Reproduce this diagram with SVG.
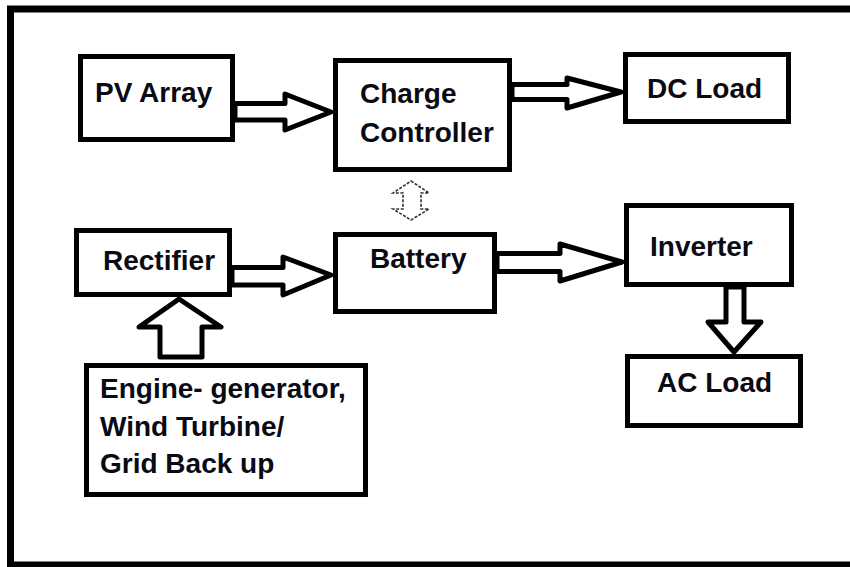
<svg xmlns="http://www.w3.org/2000/svg" width="850" height="567" viewBox="0 0 850 567">
<style>
.box{fill:#fff;stroke:#000;stroke-width:5}
.arr{fill:#fff;stroke:#000;stroke-width:5;stroke-linejoin:round}
.lbl{font-family:"Liberation Sans",Arial,sans-serif;font-weight:bold;font-size:28px;fill:#0a0a14}
.frame{fill:none;stroke:#000;stroke-width:7}
.dbl{fill:#fff;stroke:#333;stroke-width:1.6;stroke-dasharray:3 1.5}
</style>
<rect width="850" height="567" fill="#fff"/>
<path class="frame" d="M860 9 H10.5 V565 H860"/>
<g id="connectors">
<polygon class="arr" points="235,103.5 285,103.5 285,94 331,112 285,130 285,120 235,120"/>
<polygon class="arr" points="512,84.5 567,84.5 567,78 621,92 567,108 567,99.5 512,99.5"/>
<polygon class="arr" points="232,267.5 283,267.5 283,257 331,275 283,295 283,285 232,285"/>
<polygon class="arr" points="497,253.5 560,253.5 560,244 622,262 560,281 560,271.5 497,271.5"/>
<polygon class="arr" points="726,287 744,287 744,322 761,322 734,352 708,322 726,322"/>
<polygon class="arr" points="160,357 160,327 139,327 179,299 221,327 202,327 202,357"/>
<polygon class="dbl" points="411,181 429,193 421,193 421,209 429,209 411,220 393,209 403,209 403,193 393,193"/>
</g>
<g id="pv-array"><rect class="box" x="80.5" y="56.5" width="152" height="83"/><text class="lbl" x="95" y="102">PV Array</text></g>
<g id="charge-controller"><rect class="box" x="335.5" y="60.5" width="174" height="109"/><text class="lbl" x="360" y="103">Charge</text><text class="lbl" x="360" y="142">Controller</text></g>
<g id="dc-load"><rect class="box" x="625.5" y="54.5" width="163" height="67"/><text class="lbl" x="647" y="98">DC Load</text></g>
<g id="rectifier"><rect class="box" x="76.5" y="230.5" width="153" height="64"/><text class="lbl" x="103" y="270">Rectifier</text></g>
<g id="battery"><rect class="box" x="335.5" y="234.5" width="159" height="77"/><text class="lbl" x="370" y="268">Battery</text></g>
<g id="inverter"><rect class="box" x="626.5" y="205.5" width="165" height="79"/><text class="lbl" x="650" y="256">Inverter</text></g>
<g id="ac-load"><rect class="box" x="627.5" y="356.5" width="173" height="69"/><text class="lbl" x="657" y="392">AC Load</text></g>
<g id="backup"><rect class="box" x="86.5" y="365.5" width="279" height="129"/><text class="lbl" x="100" y="398">Engine- generator,</text><text class="lbl" x="100" y="436">Wind Turbine/</text><text class="lbl" x="100" y="473">Grid Back up</text></g>
</svg>
